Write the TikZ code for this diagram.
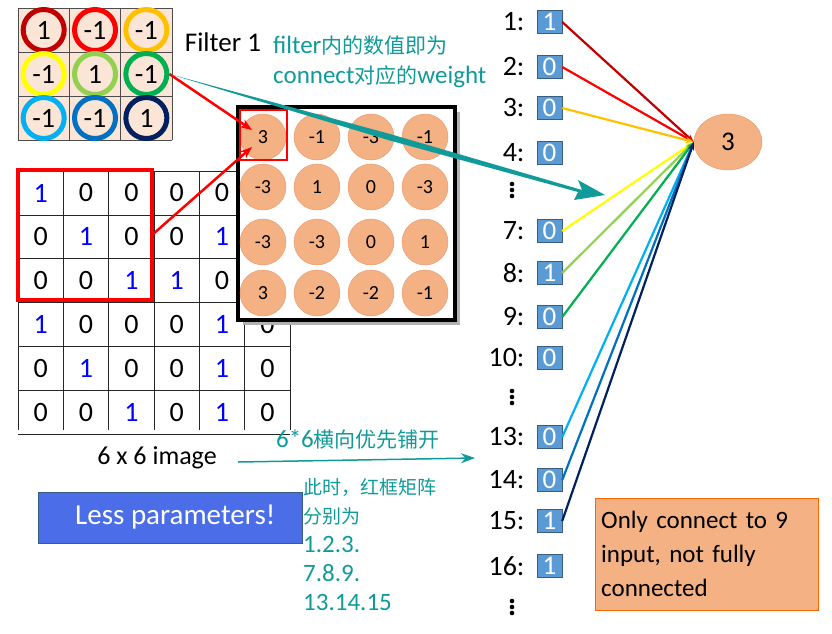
\documentclass[tikz,border=0pt]{standalone}
\usepackage{fontspec}
\setmainfont{Carlito}
\newfontfamily\cjk{Noto Sans CJK SC}
\usetikzlibrary{arrows.meta,shapes.geometric}
\definecolor{teal1}{HTML}{109A9A}
\definecolor{cellf}{HTML}{FBE5D6}
\definecolor{fm}{HTML}{F4B183}
\definecolor{fmd}{HTML}{E8956A}
\definecolor{bx}{HTML}{5B9BD5}
\definecolor{nb}{HTML}{0000FF}
\tikzset{
 fc/.style={circle,draw=#1,line width=5pt,minimum size=41pt,inner sep=0pt,font=\fontsize{28}{28}\selectfont},
 fmc/.style={circle,fill=fm,draw=fmd,minimum size=46pt,inner sep=0pt,font=\fontsize{20}{20}\selectfont},
 lab/.style={anchor=east,font=\fontsize{28}{28}\selectfont},
 vb/.style={fill=bx,draw=bx!60!black,text=white,minimum width=25pt,minimum height=23pt,inner sep=0pt,font=\fontsize{27}{27}\selectfont},
 con/.style={line width=2.2pt,-{Stealth[length=8pt]}},
 tealtxt/.style={text=teal1,font=\fontsize{25}{30}\selectfont,align=left}
}
\begin{document}
\begin{tikzpicture}[x=1pt,y=-1pt]
\useasboundingbox (0,0) rectangle (832,633);
% filter
\fill[cellf] (18,8) rectangle (172,140);
\foreach \k in {0,...,3}{
 \draw[gray!60!black] (18+51.33*\k,8) -- (18+51.33*\k,140);
 \draw[gray!60!black] (18,8+44*\k) -- (172,8+44*\k);}
\foreach \v/\c [count=\i from 0] in {1/C00000,-1/FF0000,-1/FFC000,-1/FFFF00,1/92D050,-1/00B050,-1/00B0F0,-1/0070C0,1/002060}{
 \pgfmathtruncatemacro\col{mod(\i,3)}\pgfmathtruncatemacro\row{div(\i,3)}
 \definecolor{cc}{HTML}{\c}
 \node[fc=cc] (f\i) at (43.7+51.33*\col,30+44*\row) {\v};
}
\node[font=\fontsize{27}{27}\selectfont] (ft) at (223,42) {Filter 1};
\node[tealtxt,anchor=west,inner sep=0pt] (tt) at (273,62) {filter{\cjk\fontsize{21}{30}\selectfont 内的数值即为}\\connect{\cjk\fontsize{21}{30}\selectfont 对应的}weight};
% image
\foreach \r/\row in {0/{1,0,0,0,0,0},1/{0,1,0,0,1,0},2/{0,0,1,1,0,0},3/{1,0,0,0,1,0},4/{0,1,0,0,1,0},5/{0,0,1,0,1,0}}{
 \foreach \v [count=\c from 0] in \row {
  \ifnum\v=1 \def\tc{nb}\else\def\tc{black}\fi
  \node[font=\fontsize{28}{28}\selectfont,text=\tc] at (40.7+45.33*\c,193+43.8*\r) {\v};
 }
}
\foreach \k in {0,...,6}{
 \draw[gray!30!black] (18+45.33*\k,171) -- (18+45.33*\k,430);
 \draw[gray!30!black] (18,171+43.8*\k) -- (290,171+43.8*\k);}
\draw[red,line width=4pt] (18,170) rectangle (152,300);
\coordinate (rb) at (152,235);
% feature map
\fill[gray!60] (243,112) rectangle (460,325);
\draw[line width=3.5pt,fill=white] (238,107) rectangle (455,320);
\foreach \v [count=\i from 0] in {3,-1,-3,-1,-3,1,0,-3,-3,-3,0,1,3,-2,-2,-1}{
 \pgfmathtruncatemacro\col{mod(\i,4)}\pgfmathtruncatemacro\row{div(\i,4)}
 \pgfmathsetmacro\xx{{263,317,371,425}[\col]}\pgfmathsetmacro\yy{{137,187,242,293}[\row]}
 \node[fmc] (m\i) at (\xx,\yy) {\v};
}
\draw[red,line width=2.5pt] (240,110) rectangle (287,160);
\draw[red,line width=2.5pt,-{Stealth[length=12pt]}] (f5.east) -- (252,130);
\draw[red,line width=2.5pt,-{Stealth[length=12pt]}] (rb) -- (252,147);
% teal big arrow
\coordinate (ta) at (605,195);
\fill[teal1] (f5.east) -- (390,134) -- (582,190) -- (578,180) -- (ta) -- (574,200) -- (578,192) -- (388,140) -- cycle;
% text bottom
\node[font=\fontsize{26}{26}\selectfont] (im) at (157,458) {6 x 6 image};
\coordinate (ia) at (475,458);
\draw[teal1,line width=1.5pt,-{Stealth[length=14pt,width=10pt]}] (238,462) -- (ia);
\node[tealtxt] at (358,440) {6*6{\cjk\fontsize{21}{21}\selectfont 横向优先铺开}};
\node[fill=bx!60!blue!90!white,draw=bx!60!black,text=white,minimum width=264pt,minimum height=51pt,font=\fontsize{29}{29}\selectfont,anchor=west,inner sep=0pt] (lp) at (38,517.5) {\hspace{10pt}Less parameters!\hfill};
\node[tealtxt,anchor=north west,inner sep=0pt,font=\fontsize{25}{29}\selectfont] at (303,478) {{\cjk\fontsize{19}{29}\selectfont 此时，红框矩阵}\\{\cjk\fontsize{19}{29}\selectfont 分别为}\\1.2.3.\\7.8.9.\\13.14.15};
% right column
\node[ellipse,draw=fmd,fill=fm,minimum width=68pt,minimum height=56pt,font=\fontsize{27}{27}\selectfont] (out) at (728,142) {3};
\foreach \n/\v/\y in {1/1/22,2/0/67,3/0/108,4/0/153,7/0/231,8/1/273,9/0/317,10/0/358,13/0/437,14/0/480,15/1/521,16/1/566}{
 \node[lab] at (528,\y) {\n:};
 \node[vb] (b\n) at (549.5,\y) {\v};
}
\foreach \y in {190,397,607}{\foreach \d in {-6,0,6}{\fill (512,\y+\d) circle (2.3pt);}}
\foreach \n/\c in {1/C00000,2/FF0000,3/FFC000,7/FFFF00,8/92D050,9/00B050,13/00B0F0,14/0070C0,15/002060}{
 \definecolor{cc}{HTML}{\c}
 \draw[con,cc] (b\n.east) -- (out.west);
}
\node[draw=orange!80!red,fill=fm,minimum width=223pt,minimum height=112pt,anchor=north west,inner xsep=6pt,inner ysep=8pt,align=left,text width=211pt,font=\fontsize{25}{34}\selectfont] (ob) at (595,498) {\raggedright Only connect to 9\\ input, not fully\\ connected};
\end{tikzpicture}
\end{document}
